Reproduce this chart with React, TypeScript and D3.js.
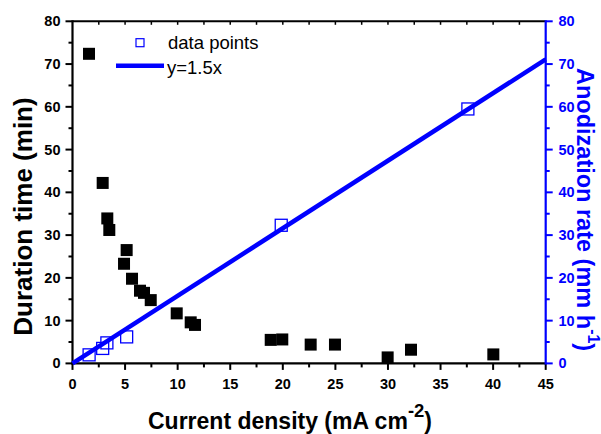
import React from "react";
import * as d3 from "d3";

// Duration time (min) versus current density (mA cm^-2)
const durationX = [1.57, 2.87, 3.31, 3.5, 4.9, 5.15, 5.66, 6.42, 6.8, 7.44, 9.91, 11.24, 11.65, 18.85, 19.95, 22.65, 24.96, 29.97, 32.19, 40.02];
const durationY = [72.4, 42.2, 33.9, 31.2, 23.3, 26.5, 19.8, 17.0, 16.5, 14.8, 11.7, 9.6, 9.0, 5.5, 5.6, 4.4, 4.4, 1.4, 3.2, 2.1];

// Anodization rate (mm h^-1) versus current density
const rateX = [1.58, 2.87, 3.27, 5.15, 19.85, 37.6];
const rateY = [2.0, 3.5, 4.8, 6.2, 32.3, 59.5];

// Linear fit through the origin for the rate data
const fitSlope = 1.58;

const xTicks = [0, 5, 10, 15, 20, 25, 30, 35, 40, 45];
const yTicks = [0, 10, 20, 30, 40, 50, 60, 70, 80];

const W = 601;
const H = 434;
const left = 72.5;
const right = 545.7;
const top = 21.3;
const bottom = 363.4;
const BLUE = "#0000ff";
const FONT = "'Liberation Sans', Arial, sans-serif";

export default function App() {
  const x = d3.scaleLinear().domain([0, 45]).range([left, right]);
  const y = d3.scaleLinear().domain([0, 80]).range([bottom, top]);
  const yR = d3.scaleLinear().domain([0, 80]).range([bottom, top]);

  const xMinor = d3.range(2.5, 45, 5);
  const yMinor = d3.range(5, 80, 10);
  const topTicks = d3.range(2.5, 45, 2.5);

  const fitLine = d3
    .line<number>()
    .x((d) => x(d))
    .y((d) => yR(fitSlope * d));

  const sq = 12;

  return (
    <svg
      width={W}
      height={H}
      style={{ position: "absolute", left: 0, top: 0, background: "#fff" }}
      fontFamily={FONT}
    >
      <rect width={W} height={H} fill="#fff" />

      {/* top frame with inward ticks */}
      <line x1={left} x2={right} y1={top} y2={top} stroke="#000" strokeWidth={2} />
      {topTicks.map((t) => (
        <line key={"tt" + t} x1={x(t)} x2={x(t)} y1={top} y2={top + 3.5} stroke="#000" strokeWidth={1.5} />
      ))}

      {/* bottom axis */}
      <line x1={left - 1} x2={right} y1={bottom} y2={bottom} stroke="#000" strokeWidth={2.2} />
      {xTicks.map((t) => (
        <g key={"xt" + t}>
          <line x1={x(t)} x2={x(t)} y1={bottom} y2={bottom + 6.5} stroke="#000" strokeWidth={2} />
          <text x={x(t)} y={388.5} textAnchor="middle" fontSize={14.5} fontWeight="bold" fill="#000">
            {t}
          </text>
        </g>
      ))}
      {xMinor.map((t) => (
        <line key={"xm" + t} x1={x(t)} x2={x(t)} y1={bottom} y2={bottom + 4} stroke="#000" strokeWidth={2} />
      ))}

      {/* left axis */}
      <line x1={left} x2={left} y1={top - 1} y2={bottom + 1} stroke="#000" strokeWidth={2.2} />
      {yTicks.map((t) => (
        <g key={"yt" + t}>
          <line x1={left - 7} x2={left} y1={y(t)} y2={y(t)} stroke="#000" strokeWidth={2} />
          <text x={60.5} y={y(t) + 5} textAnchor="end" fontSize={14.5} fontWeight="bold" fill="#000">
            {t}
          </text>
        </g>
      ))}
      {yMinor.map((t) => (
        <line key={"ym" + t} x1={left - 4} x2={left} y1={y(t)} y2={y(t)} stroke="#000" strokeWidth={2} />
      ))}

      {/* right axis */}
      <line x1={right} x2={right} y1={top - 1} y2={bottom + 1} stroke={BLUE} strokeWidth={2.2} />
      {yTicks.map((t) => (
        <g key={"rt" + t}>
          <line x1={right} x2={right + 7} y1={yR(t)} y2={yR(t)} stroke={BLUE} strokeWidth={2} />
          <text x={558.5} y={yR(t) + 5} textAnchor="start" fontSize={14.5} fontWeight="bold" fill={BLUE}>
            {t}
          </text>
        </g>
      ))}
      {yMinor.map((t) => (
        <line key={"rm" + t} x1={right} x2={right + 4} y1={yR(t)} y2={yR(t)} stroke={BLUE} strokeWidth={2} />
      ))}

      {/* duration markers */}
      {durationX.map((d, i) => (
        <rect key={"d" + i} x={x(d) - sq / 2} y={y(durationY[i]) - sq / 2} width={sq} height={sq} fill="#000" />
      ))}

      {/* rate markers */}
      {rateX.map((d, i) => (
        <rect
          key={"r" + i}
          x={x(d) - sq / 2}
          y={yR(rateY[i]) - sq / 2}
          width={sq}
          height={sq}
          fill="none"
          stroke={BLUE}
          strokeWidth={1.3}
        />
      ))}

      {/* fitted line */}
      <path d={fitLine([0, 45]) || ""} stroke={BLUE} strokeWidth={4.5} fill="none" />

      {/* legend */}
      <rect x={136} y={38.7} width={8} height={8} fill="none" stroke={BLUE} strokeWidth={1.2} />
      <text x={168} y={48.5} fontSize={18.5} fill="#000">
        data points
      </text>
      <line x1={116} x2={164} y1={65.7} y2={65.7} stroke={BLUE} strokeWidth={4.5} />
      <text x={167} y={73.5} fontSize={18.5} fill="#000">
        y=1.5x
      </text>

      {/* axis titles */}
      <text
        transform={`translate(32, 216.5) rotate(-90)`}
        textAnchor="middle"
        fontSize={26}
        fontWeight="bold"
        fill="#000"
      >
        Duration time (min)
      </text>
      <text x={148} y={429} fontSize={23} fontWeight="bold" fill="#000">
        Current density (mA cm
        <tspan dy={-12.5} fontSize={18.5}>
          -2
        </tspan>
        <tspan dy={12.5}>)</tspan>
      </text>
      <text transform={`translate(577, 68) rotate(90)`} fontSize={23.5} fontWeight="bold" fill={BLUE}>
        Anodization rate (mm h
        <tspan dy={-11} fontSize={16}>
          -1
        </tspan>
        <tspan dy={11}>)</tspan>
      </text>
    </svg>
  );
}
